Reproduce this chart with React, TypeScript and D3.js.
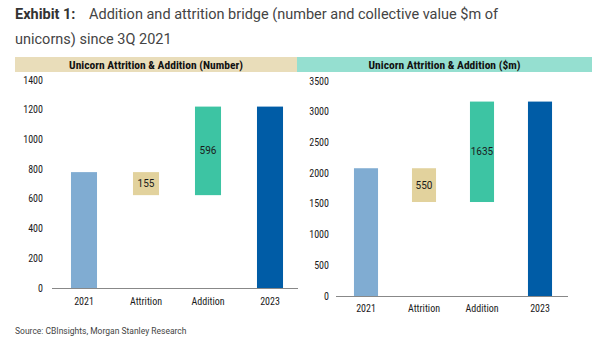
import React from "react";
import * as d3 from "d3";

// bridge data
const categories = ["2021", "Attrition", "Addition", "2023"];
const countValues = [780, -155, 596, 1221];
const valueValues = [2080, -550, 1635, 3165];
const countTicks = [0, 200, 400, 600, 800, 1000, 1200, 1400];
const valueTicks = [0, 500, 1000, 1500, 2000, 2500, 3000, 3500];
const barColors = ["#80acd2", "#e2d29d", "#3dc4a3", "#005ca6"];

const FONT = "Roboto, 'Liberation Sans', sans-serif";
const NARROW = "'Liberation Sans Narrow', 'Roboto Condensed', Roboto, sans-serif";

type PanelProps = {
  title: string;
  headerColor: string;
  values: number[];
  ticks: number[];
  x0: number;
  x1: number;
  headerX0: number;
  headerX1: number;
  axisX0: number;
  axisX1: number;
  yTop: number;
  yBottom: number;
  labelX: number;
  catY: number;
  padInner: number;
};

// turn the bridge values into floating bars [low, high]
function bridge(values: number[]) {
  let run = 0;
  return values.map((v, i) => {
    if (i === 0 || i === values.length - 1) {
      run = v;
      return [0, v];
    }
    const a = run;
    run = run + v;
    return [Math.min(a, run), Math.max(a, run)];
  });
}

const Panel: React.FC<PanelProps> = (p) => {
  const y = d3.scaleLinear().domain([p.ticks[0], p.ticks[p.ticks.length - 1]]).range([p.yBottom, p.yTop]);
  const x = d3.scaleBand().domain(categories).range([p.x0, p.x1]).paddingInner(p.padInner).paddingOuter(p.padInner / 2);
  const bars = bridge(p.values);
  return (
    <g>
      <rect x={p.headerX0} y={57} width={p.headerX1 - p.headerX0} height={15} fill={p.headerColor} />
      <text
        x={(p.headerX0 + p.headerX1) / 2}
        y={68.5}
        textAnchor="middle"
        fontFamily={NARROW}
        fontWeight="bold"
        fontSize={11.5}
        fill="#111"
      >
        {p.title}
      </text>
      {p.ticks.map((t) => (
        <text key={t} x={p.labelX} y={y(t) + 3.5} textAnchor="end" fontFamily={NARROW} fontSize={10} fill="#1a1a1a">
          {t}
        </text>
      ))}
      {bars.map((b, i) => (
        <rect
          key={categories[i]}
          x={x(categories[i])}
          width={x.bandwidth()}
          y={y(b[1])}
          height={y(b[0]) - y(b[1])}
          fill={barColors[i]}
        />
      ))}
      {bars.map((b, i) =>
        i === 0 || i === bars.length - 1 ? null : (
          <text
            key={"l" + i}
            x={(x(categories[i]) as number) + x.bandwidth() / 2}
            y={(y(b[0]) + y(b[1])) / 2 + 3.5}
            textAnchor="middle"
            fontFamily={FONT}
            fontSize={10}
            fill="#1a1a1a"
          >
            {Math.abs(p.values[i])}
          </text>
        )
      )}
      <line x1={p.axisX0} x2={p.axisX1} y1={p.yBottom + 0.5} y2={p.yBottom + 0.5} stroke="#888" strokeWidth={1} />
      {categories.map((c) => (
        <text
          key={c}
          x={(x(c) as number) + x.bandwidth() / 2}
          y={p.catY}
          textAnchor="middle"
          fontFamily={NARROW}
          fontSize={10}
          fill="#1a1a1a"
        >
          {c}
        </text>
      ))}
    </g>
  );
};

export default function App() {
  return (
    <svg
      width={600}
      height={350}
      style={{ position: "fixed", left: 0, top: 0, background: "#fff" }}
    >
      <text x={15} y={19} fontFamily={FONT} fontSize={14.5} fill="#444">
        <tspan fontWeight="bold" fill="#333">Exhibit 1:</tspan>
        <tspan x={89}>Addition and attrition bridge (number and collective value $m of</tspan>
      </text>
      <text x={15} y={44} fontFamily={FONT} fontSize={14.5} fill="#444">
        unicorns) since 3Q 2021
      </text>
      <Panel
        title="Unicorn Attrition & Addition (Number)"
        headerColor="#e9ddba"
        values={countValues}
        ticks={countTicks}
        x0={53}
        x1={301}
        headerX0={15}
        headerX1={297}
        axisX0={52}
        axisX1={298}
        yTop={80}
        yBottom={288}
        labelX={43}
        catY={305}
        padInner={0.58}
      />
      <Panel
        title="Unicorn Attrition & Addition ($m)"
        headerColor="#95dfd0"
        values={valueValues}
        ticks={valueTicks}
        x0={337}
        x1={569}
        headerX0={297}
        headerX1={592}
        axisX0={336}
        axisX1={568}
        yTop={81}
        yBottom={296}
        labelX={329}
        catY={312}
        padInner={0.585}
      />
      <text x={15} y={334} fontFamily={FONT} fontSize={8.5} fill="#444">
        Source: CBInsights, Morgan Stanley Research
      </text>
    </svg>
  );
}
